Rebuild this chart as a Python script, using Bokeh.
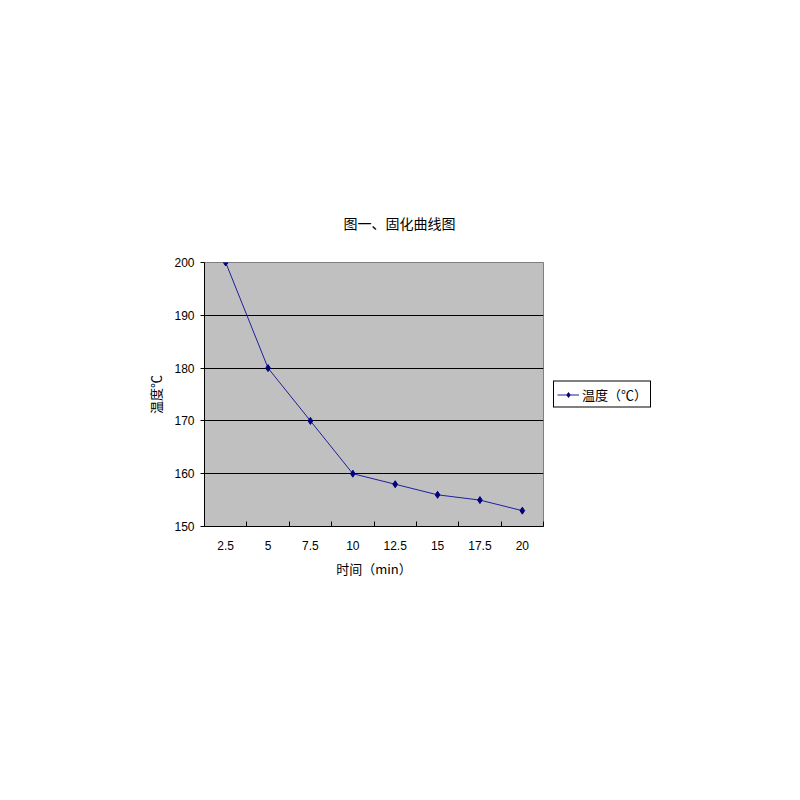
from bokeh.plotting import figure
from bokeh.models import FixedTicker, Legend, LegendItem
from bokeh.embed import file_html
from bokeh.resources import INLINE

# Curing curve: time (min) vs temperature
time_labels = ["2.5", "5", "7.5", "10", "12.5", "15", "17.5", "20"]
temperature = [200, 180, 170, 160, 158, 156, 155, 153]
y_ticks = [150, 160, 170, 180, 190, 200]

# category slots: each label sits in the middle of its slot
x_pos = [i + 0.5 for i in range(len(time_labels))]
slot_edges = list(range(len(time_labels) + 1))

cjk = "Noto Sans CJK SC"
num_font = "Liberation Sans"

p = figure(
    frame_width=339, frame_height=264,
    x_range=(0, len(time_labels)), y_range=(150, 200),
    output_backend="svg", toolbar_location=None,
    min_border_left=204, min_border_right=257,
    min_border_top=262, min_border_bottom=274,
)
p.background_fill_color = "#c0c0c0"
p.border_fill_color = "white"
p.outline_line_color = "#808080"
p.outline_line_width = 1

p.title.text = "图一、固化曲线图"
p.title.text_font = cjk
p.title.text_font_size = "14px"
p.title.text_font_style = "normal"
p.title.text_color = "black"
p.title.align = "left"
p.title.offset = 139
p.title.standoff = 59

# x axis: labels at slot centres, tick marks at slot edges
p.xaxis.ticker = FixedTicker(ticks=x_pos, minor_ticks=slot_edges)
p.xaxis.major_label_overrides = {x: lab for x, lab in zip(x_pos, time_labels)}
p.xaxis.major_tick_in = 0
p.xaxis.major_tick_out = 0
p.xaxis.minor_tick_in = 5
p.xaxis.minor_tick_out = 0
p.xaxis.minor_tick_line_color = "black"
p.xaxis.axis_line_color = "black"
p.xaxis.major_label_text_font = num_font
p.xaxis.major_label_text_font_size = "12px"
p.xaxis.major_label_text_color = "black"
p.xaxis.major_label_standoff = 14
p.xaxis.axis_label = "时间（min）"
p.xaxis.axis_label_text_font = cjk
p.xaxis.axis_label_text_font_size = "13px"
p.xaxis.axis_label_text_font_style = "normal"
p.xaxis.axis_label_text_color = "black"
p.xaxis.axis_label_standoff = 6

p.yaxis.ticker = FixedTicker(ticks=y_ticks)
p.yaxis.major_tick_in = 0
p.yaxis.major_tick_out = 4
p.yaxis.minor_tick_line_color = None
p.yaxis.axis_line_color = "black"
p.yaxis.major_label_text_font = num_font
p.yaxis.major_label_text_font_size = "12px"
p.yaxis.major_label_text_color = "black"
p.yaxis.major_label_standoff = 6
p.yaxis.axis_label = "温度℃"
p.yaxis.axis_label_text_font = cjk
p.yaxis.axis_label_text_font_size = "13px"
p.yaxis.axis_label_text_font_style = "normal"
p.yaxis.axis_label_text_color = "black"
p.yaxis.axis_label_standoff = 6

p.xgrid.grid_line_color = None
p.ygrid.ticker = FixedTicker(ticks=y_ticks)
p.ygrid.grid_line_color = "black"
p.ygrid.grid_line_width = 1

line = p.line(x_pos, temperature, line_color="#1f1f9e", line_width=1)
pts = p.scatter(x_pos, temperature, marker="diamond", size=7,
                fill_color="#000080", line_color="#000080")

legend = Legend(
    items=[LegendItem(label="温度（℃）", renderers=[line, pts])],
    location="left",
    border_line_color="black", border_line_width=1, border_line_alpha=1.0,
    background_fill_color="white",
    label_text_font=cjk, label_text_font_size="13px",
    label_text_color="black",
    glyph_width=22, glyph_height=12,
    padding=3, spacing=0, margin=10,
    label_standoff=3,
)
p.add_layout(legend, "right")

open("out.html", "w").write(file_html(p, INLINE))
